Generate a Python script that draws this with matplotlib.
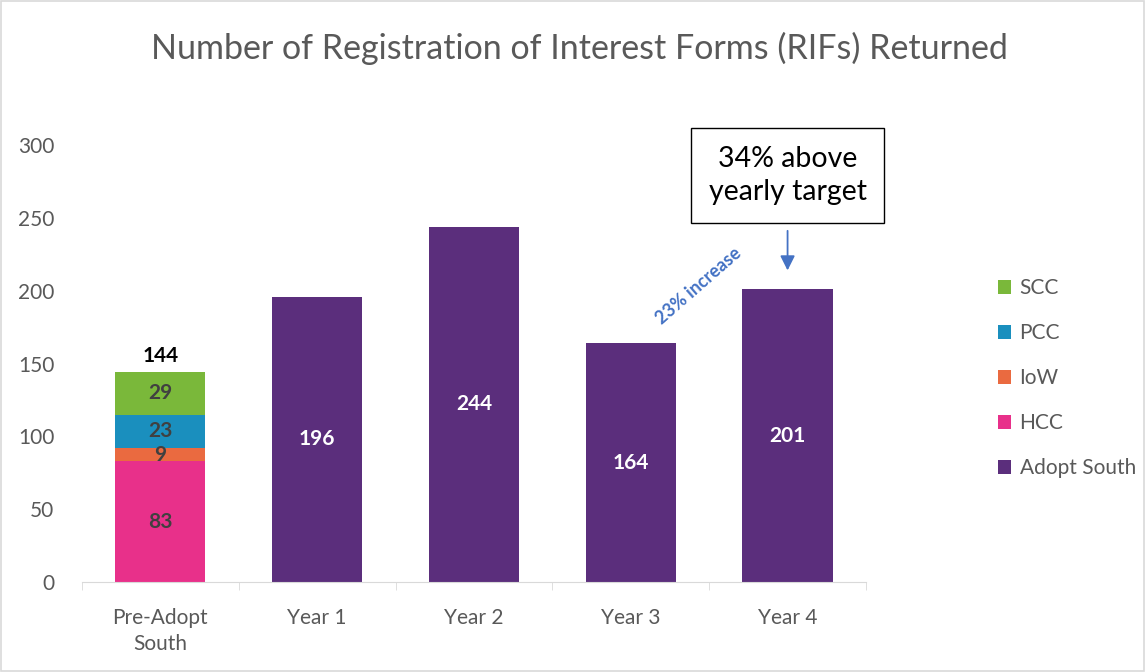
import matplotlib.pyplot as plt
from matplotlib.patches import Rectangle

plt.rcParams['font.family'] = ['Lato', 'DejaVu Sans']

categories = ['Pre-Adopt\nSouth', 'Year 1', 'Year 2', 'Year 3', 'Year 4']
# pre-adopt breakdown (bottom to top)
pre_names = ['HCC', 'IoW', 'PCC', 'SCC']
pre_values = [83, 9, 23, 29]
pre_colors = ['#E8308A', '#EA6A40', '#1A8FBE', '#7AB83A']
year_values = [196, 244, 164, 201]
adopt_color = '#5B2E7C'
grey = '#595959'

fig = plt.figure(figsize=(11.45, 6.72), dpi=100)
ax = fig.add_axes([0.0716, 0.1339, 0.6847, 0.6503])

w = 0.575
bottom = 0
handles = {}
for name, val, col in zip(pre_names, pre_values, pre_colors):
    b = ax.bar(0, val, w, bottom=bottom, color=col, label=name)
    handles[name] = b
    ax.text(0, bottom + val / 2, str(val), ha='center', va='center',
            fontsize=15, fontweight='bold', color='#404040')
    bottom += val
ax.text(0, bottom + 4, str(sum(pre_values)), ha='center', va='bottom',
        fontsize=15, fontweight='bold', color='black')

xs = range(1, len(categories))
b = ax.bar(list(xs), year_values, w, color=adopt_color, label='Adopt South')
handles['Adopt South'] = b
for x, v in zip(xs, year_values):
    ax.text(x, v / 2, str(v), ha='center', va='center',
            fontsize=15, fontweight='bold', color='white')

ax.set_xlim(-0.5, len(categories) - 0.5)
ax.set_ylim(0, 300)
ax.set_yticks(range(0, 301, 50))
ax.set_xticks(range(len(categories)))
ax.set_xticklabels(categories, linespacing=1.35)
ax.set_xticks([i - 0.5 for i in range(len(categories) + 1)], minor=True)
ax.tick_params(axis='x', which='major', length=0, pad=19, labelsize=15, labelcolor=grey)
ax.tick_params(axis='x', which='minor', length=6, color='#D9D9D9')
ax.tick_params(axis='y', length=0, pad=20, labelsize=15, labelcolor=grey)
for s in ['top', 'right', 'left']:
    ax.spines[s].set_visible(False)
ax.spines['bottom'].set_color('#D9D9D9')

order = ['SCC', 'PCC', 'IoW', 'HCC', 'Adopt South']
leg = fig.legend([handles[k] for k in order], order, loc='upper left',
                 bbox_to_anchor=(0.855, 0.614), frameon=False, fontsize=15,
                 labelspacing=1.2, handlelength=0.65, handleheight=0.65,
                 handletextpad=0.4)
for t in leg.get_texts():
    t.set_color(grey)

fig.text(0.506, 0.928, 'Number of Registration of Interest Forms (RIFs) Returned',
         ha='center', va='center', fontsize=24.5, color=grey)

# annotations
ax.annotate('', xy=(4, 212), xytext=(4, 243),
            arrowprops=dict(arrowstyle='-|>', color='#4472C4', lw=1.3, mutation_scale=22),
            annotation_clip=False)
ax.text(4, 279, '34% above\nyearly target', ha='center', va='center', fontsize=20.5,
        color='black', linespacing=1.35, clip_on=False,
        bbox=dict(boxstyle='square,pad=0.62', fc='white', ec='black', lw=1))
ax.text(3.43, 203, '23% increase', rotation=41, ha='center', va='center',
        fontsize=13, fontweight='bold', color='#4472C4', rotation_mode='anchor')

fig.patches.append(Rectangle((0.001, 0.001), 0.998, 0.998, transform=fig.transFigure,
                             fill=False, ec='#D9D9D9', lw=1.2))

fig.savefig('out.png', dpi=100)
